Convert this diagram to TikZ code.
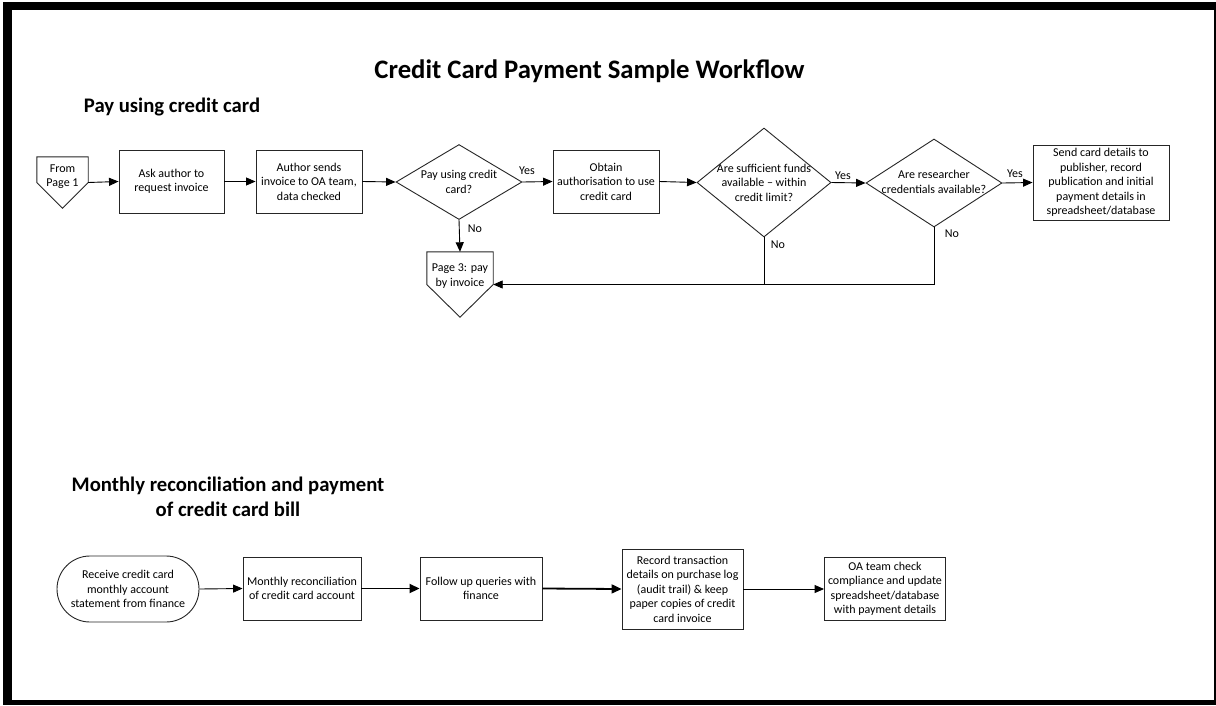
\documentclass[tikz,border=0pt]{standalone}
\usepackage{fontspec}
\setmainfont{Carlito}
\usetikzlibrary{arrows.meta,shapes.geometric}
\begin{document}
\begin{tikzpicture}[x=1pt,y=-1pt,
  txt/.style={font=\fontsize{12}{14.5}\selectfont, align=center, inner sep=0pt},
  proc/.style={txt, draw=black!85, line width=0.9pt},
  dec/.style={diamond, draw=black!85, line width=0.9pt, inner sep=0pt, aspect=1.6},
  conn/.style={draw=black, line width=0.9pt},
  arr/.style={conn, -{Triangle[length=9.5pt,width=8pt]}},
  bold arr/.style={draw=black, line width=1.8pt, -{Triangle[length=10pt,width=9pt]}},
  lbl/.style={txt},
  head/.style={font=\fontsize{20.7}{25}\selectfont\bfseries, align=center, inner sep=0pt},
]
\useasboundingbox (0,0) rectangle (1216,705);
% frame
\fill[white] (0,0) rectangle (1216,705);
\fill[black] (3,2) rectangle (1216,10);
\fill[black] (3,2) rectangle (12,705);
\fill[black] (1213.5,2) rectangle (1216,705);
\fill[black] (3,700) rectangle (1216,705);

% titles
\node[font=\fontsize{26.7}{30}\selectfont\bfseries, inner sep=0pt] (title) at (589.5,71) {Credit Card Payment Sample Workflow};
\node[head] (h1) at (172,107) {Pay using credit card};
\node[head] (h2) at (228,497) {Monthly reconciliation and payment\\of credit card bill};

% off-page connectors
\node[minimum width=51pt, minimum height=51pt, inner sep=0pt] (fp1) at (62.5,182.5) {};
\draw[draw=black!85, line width=0.9pt] (fp1.north west) -- (fp1.north east) -- (fp1.east) -- (fp1.south) -- (fp1.west) -- cycle;
\node[txt] (fp1t) at (62.5,176.5) {From\\Page 1};

\node[minimum width=66pt, minimum height=65pt, inner sep=0pt] (p3) at (460,284.5) {};
\draw[draw=black!85, line width=0.9pt] (p3.north west) -- (p3.north east) -- (p3.east) -- (p3.south) -- (p3.west) -- cycle;
\node[txt] (p3t) at (460,276) {Page 3: pay\\by invoice};

% process boxes, top row
\node[proc, minimum width=105pt, minimum height=63pt] (b1) at (171.5,181.5) {Ask author to\\request invoice};
\node[proc, minimum width=106pt, minimum height=63pt] (b2) at (309,181.5) {Author sends\\invoice to OA team,\\data checked};
\node[proc, minimum width=106pt, minimum height=63pt] (b3) at (606,181.5) {Obtain\\authorisation to use\\credit card};
\node[proc, minimum width=136pt, minimum height=75pt] (b4) at (1101,182.5) {Send card details to\\publisher, record\\publication and initial\\payment details in\\spreadsheet/database};

% decisions
\node[dec, minimum width=126pt, minimum height=75pt] (d1) at (459,182) {};
\node[txt] at (d1) {Pay using credit\\card?};
\node[dec, minimum width=134pt, minimum height=109pt] (d2) at (764,182.5) {};
\node[txt] at (d2) {Are sufficient funds\\available -- within\\credit limit?};
\node[dec, minimum width=136pt, minimum height=88pt] (d3) at (934,183) {};
\node[txt] at (934,182) {Are researcher\\credentials available?};

% top connectors
\draw[arr] (fp1.east) -- (b1.west);
\draw[arr] (b1.east) -- (b2.west);
\draw[arr] (b2.east) -- (d1.west);
\draw[arr] (d1.east) -- (b3.west);
\draw[arr] (b3.east) -- (d2.west);
\draw[arr] (d2.east) -- (d3.west);
\draw[arr] (d3.east) -- (b4.west);
\draw[arr] (d1.south) -- (p3.north);
\draw[conn] (d2.south) -- (d2.south |- p3.east);
\draw[arr] (d3.south) -- (d3.south |- p3.east) -- (p3.east);

\node[lbl] at (527,171) {Yes};
\node[lbl] at (843,176) {Yes};
\node[lbl] at (1015,174) {Yes};
\node[lbl] at (475,229) {No};
\node[lbl] at (778,245) {No};
\node[lbl] at (952,234) {No};

% bottom row
\node[proc, minimum width=142pt, minimum height=66pt, rounded corners=33pt] (s1) at (128,589) {Receive credit card\\monthly account\\statement from finance};
\node[proc, minimum width=118pt, minimum height=63pt] (b5) at (302,588.5) {Monthly reconciliation\\of credit card account};
\node[proc, minimum width=122pt, minimum height=63pt] (b6) at (481,588.5) {Follow up queries with\\finance};
\node[proc, minimum width=121pt, minimum height=80pt] (b7) at (682.5,589) {Record transaction\\details on purchase log\\(audit trail) \& keep\\paper copies of credit\\card invoice};
\node[proc, minimum width=121pt, minimum height=63pt] (b8) at (885,589) {OA team check\\compliance and update\\spreadsheet/database\\with payment details};

\draw[arr] (s1.east) -- (b5.west);
\draw[bold arr] (b5.east) -- (b6.west);
\draw[bold arr] (b6.east) -- (b7.west);
\draw[arr] (b7.east) -- (b8.west);
\end{tikzpicture}
\end{document}
